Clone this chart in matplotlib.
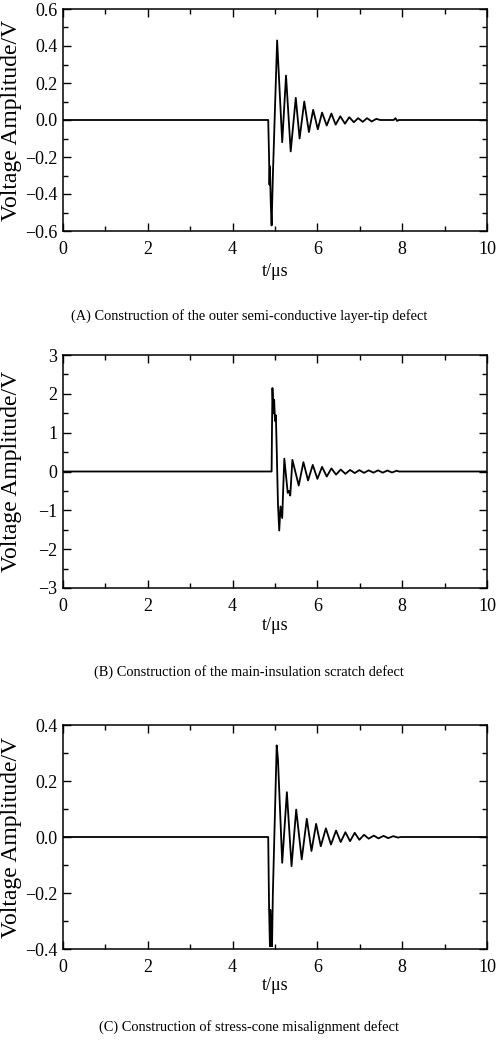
import matplotlib
matplotlib.use("Agg")
import matplotlib.pyplot as plt
from matplotlib.ticker import MultipleLocator, FuncFormatter

plt.rcParams['font.family'] = ['Liberation Serif', 'DejaVu Serif']
plt.rcParams['axes.unicode_minus'] = True

# Panel A: outer semi-conductive layer-tip defect (extrema)
t_a = [0, 4.84, 4.86, 4.87, 4.88, 4.90, 4.92, 4.95, 4.98, 5.05, 5.17, 5.26, 5.37, 5.49, 5.58,
       5.69, 5.80, 5.90, 6.01, 6.11, 6.22, 6.33, 6.43, 6.54, 6.65, 6.75, 6.86, 6.96, 7.07,
       7.17, 7.28, 7.39, 7.48, 7.80, 7.84, 7.88, 7.92, 10]
v_a = [0, 0, -0.20, -0.35, -0.25, -0.45, -0.57, -0.30, -0.08, 0.43, -0.12, 0.24, -0.17, 0.12,
       -0.10, 0.10, -0.065, 0.055, -0.05, 0.04, -0.03, 0.035, -0.025, 0.02, -0.02, 0.015,
       -0.012, 0.01, -0.01, 0.01, -0.008, 0.006, 0, 0, 0.01, -0.005, 0, 0]

# Panel B: main-insulation scratch defect
t_b = [0, 4.92, 4.93, 4.94, 4.96, 4.98, 5.00, 5.02, 5.04, 5.07, 5.10, 5.13, 5.17, 5.20, 5.22,
       5.30, 5.33, 5.36, 5.41, 5.56, 5.67, 5.78, 5.89, 6.00, 6.11, 6.22, 6.33, 6.44, 6.55,
       6.66, 6.77, 6.88, 6.99, 7.10, 7.21, 7.32, 7.43, 7.54, 7.65, 7.76, 7.87, 7.92, 10]
v_b = [0, 0, 1.2, 2.15, 1.5, 1.85, 1.3, 1.45, 0.6, -0.85, -1.52, -0.9, -1.2, -0.25, 0.33,
       -0.55, -0.5, -0.62, 0.30, -0.36, 0.24, -0.23, 0.17, -0.19, 0.12, -0.13, 0.08, -0.08,
       0.05, -0.06, 0.04, -0.04, 0.035, -0.035, 0.03, -0.03, 0.03, -0.03, 0.025, -0.025,
       0.02, 0, 0]

# Panel C: stress-cone misalignment defect
t_c = [0, 4.84, 4.86, 4.88, 4.89, 4.91, 4.92, 4.93, 4.95, 5.04, 5.07, 5.17, 5.28, 5.39, 5.50,
       5.63, 5.75, 5.86, 5.97, 6.08, 6.20, 6.32, 6.44, 6.55, 6.66, 6.77, 6.88, 6.99, 7.10,
       7.21, 7.33, 7.44, 7.56, 7.67, 7.79, 7.90, 7.97, 10]
v_c = [0, 0, -0.25, -0.39, -0.26, -0.39, -0.28, -0.39, -0.20, 0.327, 0.277, -0.092, 0.16,
       -0.104, 0.098, -0.08, 0.065, -0.05, 0.047, -0.033, 0.031, -0.027, 0.023, -0.018,
       0.017, -0.015, 0.015, -0.01, 0.008, -0.006, 0.005, -0.005, 0.004, -0.004, 0.003,
       -0.002, 0, 0]

captions = ["(A) Construction of the outer semi-conductive layer-tip defect",
            "(B) Construction of the main-insulation scratch defect",
            "(C) Construction of stress-cone misalignment defect"]
ylims = [(-0.6, 0.6), (-3, 3), (-0.4, 0.4)]
ymajor = [0.2, 1, 0.2]
yminor = [0.1, 0.5, 0.1]
ydec = [1, 0, 1]

W, H = 498, 1043
fig = plt.figure(figsize=(W / 100, H / 100), dpi=100)

# pixel geometry: (top, bottom) of each axes, xlabel y, caption y
geo = [(9, 231, 272, 316), (355, 588, 625, 672), (725, 949, 985, 1027)]
left, right = 63, 487
series = [(t_a, v_a), (t_b, v_b), (t_c, v_c)]


def make_fmt(nd):
    def f(x, pos):
        s = f"{x:.{nd}f}"
        if s.startswith('-'):
            s = '\u2212' + s[1:]
        return s
    return FuncFormatter(f)


for i, ((t, v), (top, bot, xl_y, cap_y)) in enumerate(zip(series, geo)):
    ax = fig.add_axes([left / W, 1 - bot / H, (right - left) / W, (bot - top) / H])
    ax.plot(t, v, color='black', lw=1.3)
    ax.set_xlim(0, 10)
    ax.set_ylim(*ylims[i])
    ax.xaxis.set_major_locator(MultipleLocator(2))
    ax.xaxis.set_minor_locator(MultipleLocator(1))
    ax.yaxis.set_major_locator(MultipleLocator(ymajor[i]))
    ax.yaxis.set_minor_locator(MultipleLocator(yminor[i]))
    ax.yaxis.set_major_formatter(make_fmt(ydec[i]))
    ax.tick_params(which='both', direction='in', top=True, right=True, labelsize=13, width=1.0)
    ax.tick_params(which='major', length=6)
    ax.tick_params(axis='y', which='major', pad=4)
    ax.tick_params(axis='x', which='major', pad=7)
    ax.tick_params(which='minor', length=3.5)
    for s in ax.spines.values():
        s.set_linewidth(1.1)
    fig.text((left + right) / 2 / W, 1 - xl_y / H, "t/μs", ha='center', va='center', fontsize=13)
    fig.text(249 / W, 1 - cap_y / H, captions[i], ha='center', va='center', fontsize=10.4)
    fig.text(12 / W, 1 - (top + bot) / 2 / H, "Voltage Amplitude/V", rotation=90,
             ha='center', va='center', fontsize=17)

fig.savefig("out.png", dpi=100)
